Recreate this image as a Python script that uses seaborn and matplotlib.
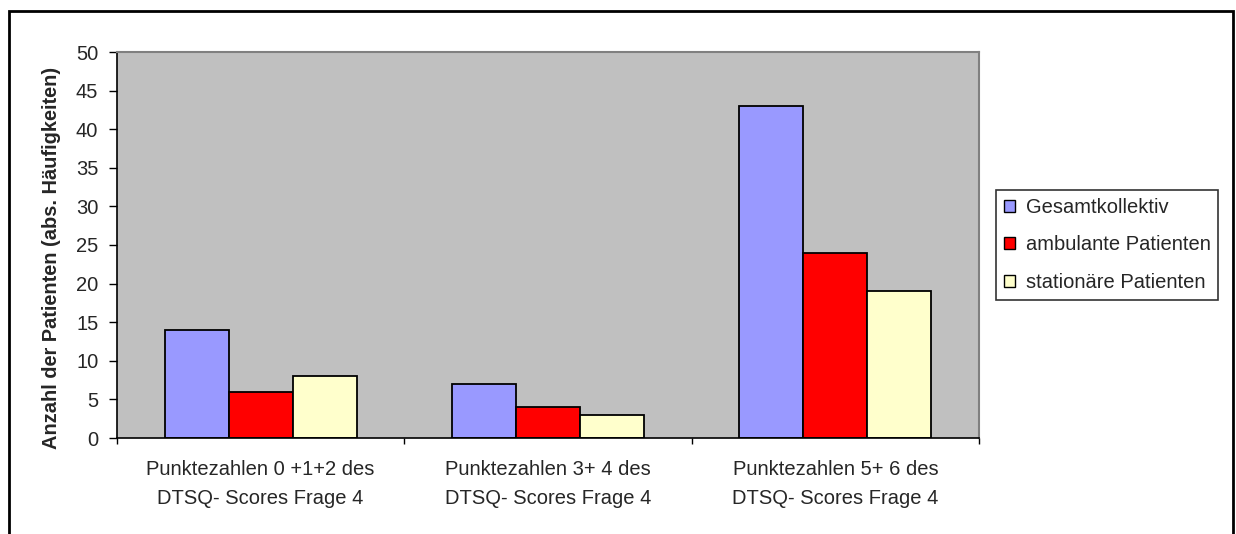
import matplotlib
matplotlib.use("Agg")
import matplotlib.pyplot as plt
from matplotlib.patches import Rectangle
import seaborn as sns
import pandas as pd

categories = [
    "Punktezahlen 0 +1+2 des\nDTSQ- Scores Frage 4",
    "Punktezahlen 3+ 4 des\nDTSQ- Scores Frage 4",
    "Punktezahlen 5+ 6 des\nDTSQ- Scores Frage 4",
]
series_names = ["Gesamtkollektiv", "ambulante Patienten", "stationäre Patienten"]
gesamt = [14, 7, 43]
ambulant = [6, 4, 24]
stationaer = [8, 3, 19]
colors = ["#9999FF", "#FF0000", "#FFFFCC"]
y_ticks = [0, 5, 10, 15, 20, 25, 30, 35, 40, 45, 50]

rows = []
for name, vals in zip(series_names, [gesamt, ambulant, stationaer]):
    for cat, v in zip(categories, vals):
        rows.append({"Kategorie": cat, "Gruppe": name, "Anzahl": v})
df = pd.DataFrame(rows)

sns.set_theme(style="white")
plt.rcParams["font.family"] = ["Liberation Sans", "DejaVu Sans"]

fig = plt.figure(figsize=(12.36, 5.34), dpi=100)
ax = fig.add_axes([117 / 1236, 96 / 534, 862 / 1236, 386 / 534])
ax.set_facecolor("#C0C0C0")

sns.barplot(
    data=df, x="Kategorie", y="Anzahl", hue="Gruppe",
    order=categories, hue_order=series_names, palette=colors,
    width=0.668, gap=0, edgecolor="black", linewidth=1.3,
    saturation=1, ax=ax, legend=True,
)

ax.set_xlim(-0.5, 2.5)
ax.set_ylim(0, 50)
ax.set_yticks(y_ticks)
ax.tick_params(axis="y", which="major", direction="out", length=5.5, width=1,
               color="black", labelsize=14.5, pad=8, left=True)
ax.set_xticks([0, 1, 2])
ax.set_xticklabels(categories)
ax.tick_params(axis="x", which="major", length=0, labelsize=14.5, pad=16)
ax.set_xticks([-0.5, 0.5, 1.5, 2.5], minor=True)
ax.tick_params(axis="x", which="minor", direction="out", length=4, width=1,
               color="black", bottom=True)
for t in ax.get_xticklabels():
    t.set_linespacing(1.62)

ax.set_xlabel("")
ax.set_ylabel("Anzahl der Patienten (abs. Häufigkeiten)", fontsize=14.4,
              fontweight="bold")
ax.yaxis.set_label_coords(-0.065, 0.466)

for side in ["left", "bottom"]:
    ax.spines[side].set_color("black")
    ax.spines[side].set_linewidth(1.2)
for side in ["top", "right"]:
    ax.spines[side].set_color("#808080")
    ax.spines[side].set_linewidth(1.5)
    ax.spines[side].set_visible(True)

leg = ax.legend(
    loc="center left", bbox_to_anchor=(996 / 1236, (534 - 245) / 534),
    bbox_transform=fig.transFigure, frameon=True, fancybox=False,
    edgecolor="black", fontsize=14.5, handlelength=0.55, handleheight=0.55,
    handletextpad=0.55, labelspacing=0.92, borderpad=0.38, borderaxespad=0,
)
leg.get_frame().set_linewidth(1.2)
for h in leg.legend_handles:
    h.set_edgecolor("black")
    h.set_linewidth(1)

fig.patches.append(Rectangle((9 / 1236, -0.05), 1224 / 1236, 1.05 - 11 / 534,
                             transform=fig.transFigure, fill=False,
                             edgecolor="black", linewidth=2))

fig.savefig("out.png", dpi=100)
